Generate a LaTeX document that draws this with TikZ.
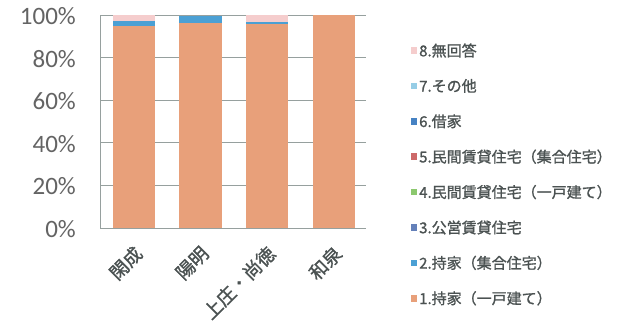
\documentclass[tikz,border=0pt]{standalone}
\usepackage{fontspec}
\setmainfont{Carlito}
\newfontfamily\jp[FakeBold=1.2]{Noto Sans CJK JP}
\definecolor{axisgray}{RGB}{150,160,158}
\definecolor{labelgray}{RGB}{100,100,100}
\definecolor{textdark}{RGB}{75,82,82}
\definecolor{cOne}{RGB}{232,160,122}
\definecolor{cTwo}{RGB}{75,160,212}
\definecolor{cThree}{RGB}{100,128,185}
\definecolor{cFour}{RGB}{140,200,110}
\definecolor{cFive}{RGB}{205,105,105}
\definecolor{cSix}{RGB}{70,130,195}
\definecolor{cSeven}{RGB}{150,205,230}
\definecolor{cEight}{RGB}{245,205,205}
\tikzset{
  ylab/.style={anchor=east, inner sep=0pt, text=labelgray, font=\fontsize{25}{25}\selectfont},
  catlab/.style={anchor=east, inner sep=0pt, rotate=45, text=textdark, font=\jp\fontsize{18.5}{18.5}\selectfont},
  legtext/.style={anchor=west, inner sep=0pt, text=textdark, font=\jp\fontsize{15}{15}\selectfont},
  gridline/.style={draw=axisgray, line width=0.8pt},
  swatch/.style={minimum width=6.5pt, minimum height=6.5pt, inner sep=0pt}
}
\begin{document}
\begin{tikzpicture}[x=1pt,y=-1pt]
\useasboundingbox (0,0) rectangle (618,330);
\fill[white] (0,0) rectangle (618,330);
% grid
\foreach \k in {0,1,2,3,4,5} {
  \draw[gridline] (100,{228-42.6*\k}) -- (366,{228-42.6*\k});
}
\draw[gridline] (100,15) -- (100,228);
% y labels
\node[ylab] (y100) at (76,16) {100\%};
\node[ylab] (y80) at (76,58.6) {80\%};
\node[ylab] (y60) at (76,101.2) {60\%};
\node[ylab] (y40) at (76,143.8) {40\%};
\node[ylab] (y20) at (76,186.4) {20\%};
\node[ylab] (y0) at (76,229) {0\%};
% bars (0% at y=228, 100% at y=15)
\fill[cOne] (113,228) rectangle (155,26);
\fill[cTwo] (113,26) rectangle (155,20.5);
\fill[cEight] (113,20.5) rectangle (155,15);
\fill[cOne] (179,228) rectangle (222,23);
\fill[cTwo] (179,23) rectangle (222,15.5);
\fill[cOne] (246,228) rectangle (288,24);
\fill[cTwo] (246,24) rectangle (288,22);
\fill[cEight] (246,22) rectangle (288,15);
\fill[cOne] (312.5,228) rectangle (355,15);
% category labels
\node[catlab] (c1) at (139,250) {閑成};
\node[catlab] (c2) at (205.5,250) {陽明};
\node[catlab] (c3) at (272,250) {上庄・尚徳};
\node[catlab] (c4) at (338.5,250) {和泉};
% legend
\foreach \i/\c/\t [count=\n from 0] in {
  8/cEight/8.無回答,
  7/cSeven/7.その他,
  6/cSix/6.借家,
  5/cFive/5.民間賃貸住宅（集合住宅）,
  4/cFour/4.民間賃貸住宅（一戸建て）,
  3/cThree/3.公営賃貸住宅,
  2/cTwo/2.持家（集合住宅）,
  1/cOne/1.持家（一戸建て）} {
  \node[swatch, fill=\c] (s\i) at (414,{50.5+35.4*\n}) {};
  \node[legtext] (l\i) at (419,{50.5+35.4*\n}) {\t};
}
\end{tikzpicture}
\end{document}
